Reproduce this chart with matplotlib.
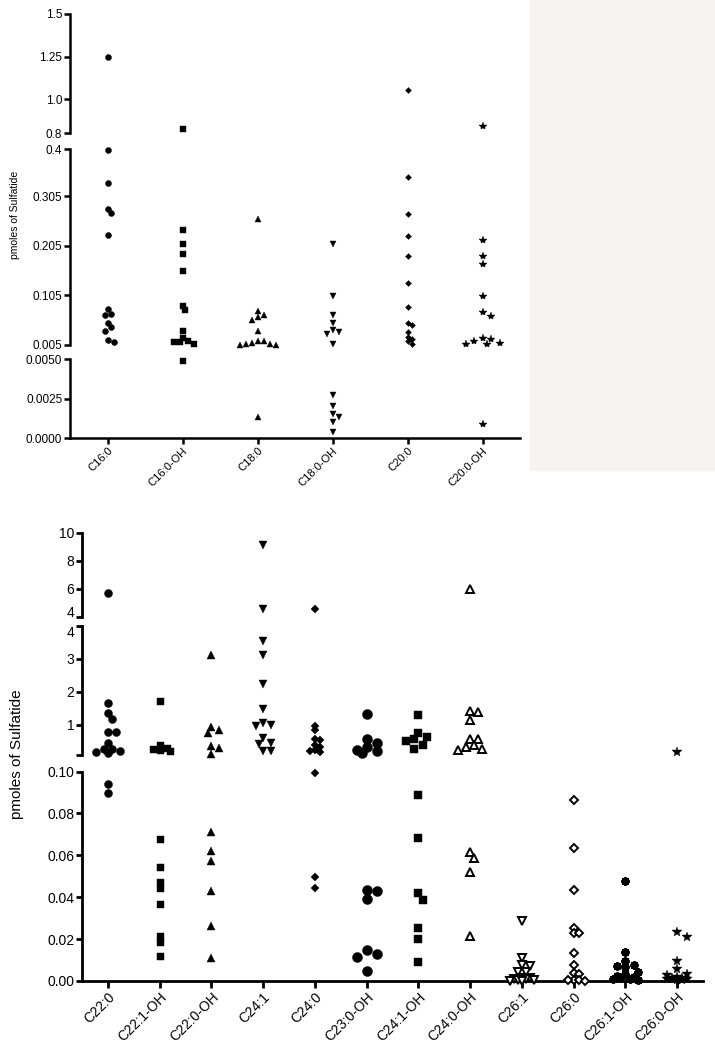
import numpy as np
import matplotlib
matplotlib.use('Agg')
import matplotlib.pyplot as plt
from matplotlib.patches import Rectangle

plt.rcParams['font.family'] = ['Liberation Sans', 'DejaVu Sans']

# ---------------- data (pmoles of sulfatide) ----------------
top_categories = ['C16:0', 'C16:0-OH', 'C18:0', 'C18:0-OH', 'C20:0', 'C20:0-OH']
c16_0 = [1.25, 0.397, 0.331, 0.280, 0.271, 0.226, 0.078, 0.068, 0.065, 0.050, 0.041, 0.034, 0.015, 0.012]
c16_0_oh = [0.824, 0.237, 0.208, 0.188, 0.155, 0.084, 0.075, 0.033, 0.020, 0.014, 0.012, 0.0115, 0.008, 0.0049]
c18_0 = [0.259, 0.073, 0.065, 0.061, 0.055, 0.033, 0.014, 0.014, 0.010, 0.008, 0.007, 0.006, 0.006, 0.0013]
c18_0_oh = [0.208, 0.104, 0.065, 0.050, 0.035, 0.031, 0.028, 0.008, 0.0027, 0.0020, 0.0015, 0.0013, 0.0010, 0.0004]
c20_0 = [1.053, 0.344, 0.269, 0.225, 0.185, 0.129, 0.081, 0.050, 0.045, 0.031, 0.021, 0.018, 0.0135, 0.008]
c20_0_oh = [0.839, 0.217, 0.184, 0.169, 0.104, 0.071, 0.063, 0.020, 0.018, 0.0135, 0.010, 0.008, 0.008, 0.00086]
top_values = [c16_0, c16_0_oh, c18_0, c18_0_oh, c20_0, c20_0_oh]

bottom_categories = ['C22:0', 'C22:1-OH', 'C22:0-OH', 'C24:1', 'C24:0', 'C23:0-OH',
                     'C24:1-OH', 'C24:0-OH', 'C26:1', 'C26:0', 'C26:1-OH', 'C26:0-OH']
c22_0 = [5.74, 1.67, 1.37, 1.18, 0.77, 0.77, 0.45, 0.28, 0.26, 0.22, 0.18, 0.15, 0.094, 0.0899]
c22_1_oh = [1.71, 0.39, 0.30, 0.27, 0.25, 0.22, 0.0678, 0.0546, 0.0471, 0.0442, 0.0366, 0.0216, 0.0185, 0.0119]
c22_0_oh = [3.12, 0.93, 0.83, 0.75, 0.35, 0.30, 0.12, 0.0713, 0.0622, 0.0573, 0.0430, 0.0261, 0.0108]
c24_1 = [9.14, 4.55, 3.55, 3.12, 2.24, 1.48, 1.07, 1.0, 0.95, 0.59, 0.44, 0.42, 0.22, 0.22]
c24_0 = [4.57, 0.98, 0.83, 0.58, 0.55, 0.40, 0.32, 0.25, 0.20, 0.18, 0.0991, 0.0498, 0.0442]
c23_0_oh = [1.33, 0.58, 0.44, 0.32, 0.25, 0.20, 0.16, 0.0436, 0.0431, 0.0393, 0.0148, 0.0129, 0.0116, 0.0046]
c24_1_oh = [1.30, 0.75, 0.62, 0.57, 0.50, 0.40, 0.26, 0.0888, 0.0683, 0.0419, 0.0387, 0.0254, 0.0202, 0.0091]
c24_0_oh = [5.98, 1.42, 1.38, 1.16, 0.58, 0.58, 0.40, 0.32, 0.27, 0.25, 0.0616, 0.0589, 0.0522, 0.0216]
c26_1 = [0.0286, 0.0108, 0.0075, 0.0072, 0.0045, 0.0042, 0.0015, 0.0012, 0.0010, 0.0008, 0.0005, 0.0003, 0.0002, 0.0001]
c26_0 = [0.0864, 0.0636, 0.0434, 0.0254, 0.0231, 0.0231, 0.0135, 0.0076, 0.0040, 0.0032, 0.0005, 0.0004, 0.0003, 0.0002]
c26_1_oh = [0.0477, 0.0137, 0.0097, 0.0076, 0.0072, 0.0068, 0.0045, 0.0032, 0.0025, 0.0020, 0.0015, 0.0010, 0.0008, 0.0005]
c26_0_oh = [0.17, 0.0232, 0.0209, 0.0097, 0.0056, 0.0032, 0.0030, 0.0020, 0.0015, 0.0012, 0.0010, 0.0008, 0.0005, 0.0003]
bottom_values = [c22_0, c22_1_oh, c22_0_oh, c24_1, c24_0, c23_0_oh,
                 c24_1_oh, c24_0_oh, c26_1, c26_0, c26_1_oh, c26_0_oh]

# ---------------- styles ----------------
# (marker, size in px, filled)
top_styles = [('o', 6, True), ('s', 5.5, True), ('^', 6, True), ('v', 6, True), ('D', 4.2, True), ('*', 8.5, True)]
asterisk = (8, 2, 0)
bottom_styles = [('o', 8, True), ('s', 7, True), ('^', 7.5, True), ('v', 7.5, True), ('D', 5.3, True),
                 ('o', 10, True), ('s', 8.5, True), ('^', 8, False), ('v', 8, False), ('D', 5.5, False),
                 (asterisk, 8.5, True), ('*', 10, True)]

W, H = 715, 1049
fig = plt.figure(figsize=(W / 100, H / 100), dpi=100)

# light background on the right of the upper panel (scan artefact)
fig.patches.append(Rectangle((530 / W, 1 - 470 / H), 185 / W, 470 / H,
                             transform=fig.transFigure, color='#f7f3f2', zorder=-10))


def px_rect(x0, x1, ytop, ybot):
    return [x0 / W, 1 - ybot / H, (x1 - x0) / W, (ybot - ytop) / H]


def make_seg(rect, xlim, ylim, ticks, labels, fs, lw, bottom=False):
    ax = fig.add_axes(rect)
    ax.patch.set_alpha(0)
    ax.set_xlim(xlim)
    ax.set_ylim(ylim)
    ax.spines['top'].set_visible(False)
    ax.spines['right'].set_visible(False)
    ax.spines['left'].set_linewidth(lw)
    ax.spines['bottom'].set_linewidth(lw)
    if not bottom:
        ax.spines['bottom'].set_visible(False)
        ax.set_xticks([])
    ax.set_yticks(ticks)
    ax.set_yticklabels(labels, fontsize=fs)
    ax.tick_params(axis='both', direction='out', length=4, width=lw, pad=1.5)
    return ax


def swarm(ax, xpos, vals, size, max_off):
    disp = ax.transData.transform(np.column_stack([np.full(len(vals), xpos), vals]))
    ys = disp[:, 1]
    ppu = ax.transData.transform([[1, 0]])[0, 0] - ax.transData.transform([[0, 0]])[0, 0]
    cands = [0.0]
    n = 1
    while n * size / 2 <= max_off * ppu:
        cands += [n * size / 2, -n * size / 2]
        n += 1
    placed = []
    xs = np.zeros(len(vals))
    for i in np.argsort(-ys):
        best, best_d = 0.0, -1
        for c in cands:
            d = min([np.hypot(c - px, ys[i] - py) for px, py in placed] + [1e9])
            if d >= size * 0.85:
                best = c
                break
            if d > best_d:
                best, best_d = c, d
        placed.append((best, ys[i]))
        xs[i] = xpos + best / ppu
    return xs


def draw_panel(axes, bounds, values, styles, max_off):
    for i, (vals, (mk, size, filled)) in enumerate(zip(values, styles)):
        vals = np.array(vals)
        for ax, (lo, hi) in zip(axes, bounds):
            sel = vals[(vals > lo) & (vals <= hi)]
            if len(sel) == 0:
                continue
            xs = swarm(ax, i, sel, size, max_off)
            ms = size * 0.72
            if filled:
                ax.plot(xs, sel, linestyle='none', marker=mk, ms=ms, color='black',
                        mec='black', mew=1.5 if mk == asterisk else 0.3, clip_on=False, zorder=3)
            else:
                ax.plot(xs, sel, linestyle='none', marker=mk, ms=ms, mfc='white',
                        mec='black', mew=1.4, clip_on=False, zorder=3)


# ---------------- upper panel ----------------
txlim = (-0.5, 5.5)
t1 = make_seg(px_rect(70, 520, 14, 133), txlim, (0.8, 1.5), [0.8, 1.0, 1.25, 1.5],
              ['0.8', '1.0', '1.25', '1.5'], 8.5, 1.8)
t2 = make_seg(px_rect(70, 520, 149, 345), txlim, (0.005, 0.4), [0.005, 0.105, 0.205, 0.305, 0.4],
              ['0.005', '0.105', '0.205', '0.305', '0.4'], 8.5, 1.8)
t3 = make_seg(px_rect(70, 520, 359, 438), txlim, (0, 0.005), [0, 0.0025, 0.005],
              ['0.0000', '0.0025', '0.0050'], 8.5, 1.8, bottom=True)
t3.set_xticks(range(len(top_categories)))
t3.set_xticklabels(top_categories, rotation=45, ha='right', rotation_mode='anchor', fontsize=8)
draw_panel([t1, t2, t3], [(0.4, 10), (0.005, 0.4), (-1, 0.005)], top_values, top_styles, 0.27)
fig.text(15 / W, 1 - 215 / H, 'pmoles of Sulfatide', rotation=90, ha='center', va='center', fontsize=7.5)

# ---------------- lower panel ----------------
bxlim = (-0.5, 11.5)
b1 = make_seg(px_rect(82, 703, 533, 617), bxlim, (4, 10), [4, 6, 8, 10],
              ['4', '6', '8', '10'], 10, 2)
b2 = make_seg(px_rect(82, 703, 626, 754.5), bxlim, (0.1, 4), [0.1, 1, 2, 3, 4],
              ['', '1', '2', '3', '4'], 10, 2)
b3 = make_seg(px_rect(82, 703, 771.5, 981), bxlim, (0, 0.1), [0, 0.02, 0.04, 0.06, 0.08, 0.10],
              ['0.00', '0.02', '0.04', '0.06', '0.08', '0.10'], 10, 2, bottom=True)
# keep the two "4" labels at the axis break apart
b1.get_yticklabels()[0].set_va('baseline')
b2.get_yticklabels()[-1].set_va('top')
b3.set_xticks(range(len(bottom_categories)))
b3.set_xticklabels(bottom_categories, rotation=45, ha='right', rotation_mode='anchor', fontsize=10)
b3.tick_params(axis='x', length=5)
draw_panel([b1, b2, b3], [(4, 20), (0.1, 4), (-1, 0.1)], bottom_values, bottom_styles, 0.26)
fig.text(17 / W, 1 - 754 / H, 'pmoles of Sulfatide', rotation=90, ha='center', va='center', fontsize=11)

fig.savefig('out.png', dpi=100)
